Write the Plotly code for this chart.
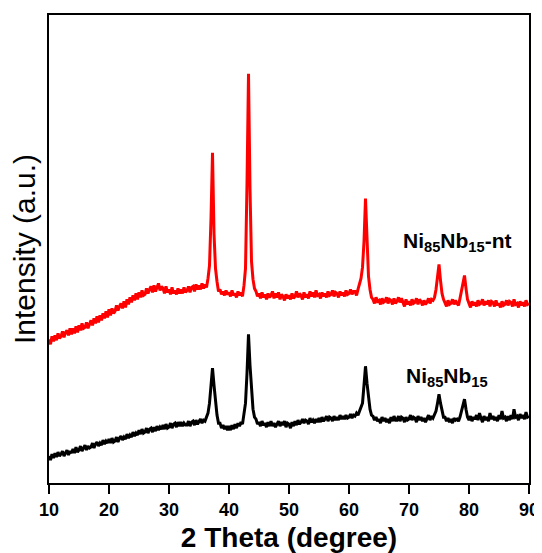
import plotly.graph_objects as go

# 2-theta grid: 10.00, 10.25, ... 90.00
two_theta = [10 + 0.25 * i for i in range(321)]

# Ni85Nb15 (black) intensity, arbitrary units
ni85nb15 = [
    27, 23, 29, 25,   30, 26, 31, 27,   29, 32, 27, 31,   33, 28, 32, 30,   # 10-13
    34, 30, 36, 31,   33, 37, 32, 35,   38, 33, 37, 35,   36, 40, 35, 39,   # 14-17
    41, 37, 40, 38,   43, 39, 42, 40,   44, 40, 45, 41,   42, 46, 41, 45,   # 18-21
    47, 43, 46, 44,   49, 45, 48, 46,   51, 47, 50, 48,   53, 49, 54, 50,   # 22-25
    51, 55, 50, 54,   55, 51, 56, 52,   57, 53, 56, 54,   58, 54, 59, 55,   # 26-29
    56, 60, 55, 59,   60, 56, 61, 57,   61, 57, 60, 58,   58, 62, 57, 61,   # 30-33
    62, 58, 63, 59,   61, 64, 60, 63,   62, 66, 70, 80,   100, 115, 98, 80, # 34-37
    68, 60, 60, 55,   58, 54, 57, 53,   57, 53, 58, 54,   59, 55, 60, 57,   # 38-41
    61, 59, 68, 80,   110, 149, 118, 90, 74, 66, 64, 59,   61, 57, 62, 58,  # 42-45
    60, 56, 61, 57,   62, 57, 60, 56,   59, 62, 57, 61,   58, 62, 56, 60,   # 46-49
    59, 55, 61, 57,   62, 58, 63, 59,   61, 64, 60, 63,   62, 59, 65, 61,   # 50-53
    63, 60, 64, 61,   65, 61, 66, 62,   64, 67, 62, 66,   65, 62, 67, 63,   # 54-57
    66, 63, 68, 64,   67, 64, 68, 65,   66, 69, 65, 68,   67, 70, 68, 72,   # 58-61
    74, 80, 98, 117,  100, 84, 74, 68,  67, 63, 66, 62,   64, 60, 66, 62,   # 62-65
    65, 61, 64, 60,   66, 62, 67, 63,   63, 67, 62, 66,   65, 61, 66, 63,   # 66-69
    64, 68, 63, 66,   65, 61, 67, 63,   66, 62, 65, 61,   64, 68, 63, 67,   # 70-73
    65, 69, 72, 80,   89, 80, 72, 66,   66, 62, 65, 61,   64, 60, 65, 63,   # 74-77
    64, 62, 66, 72,   78, 84, 74, 66,   63, 67, 62, 66,   64, 68, 63, 70,   # 78-81
    65, 61, 67, 63,   66, 62, 70, 64,   67, 63, 66, 62,   68, 64, 72, 65,   # 82-85
    66, 62, 67, 63,   68, 64, 74, 66,   67, 63, 69, 65,   68, 64, 71, 66,   # 86-89
    67,                                                                       # 90
]

# Ni85Nb15-nt (red) intensity, arbitrary units
ni85nb15_nt = [
    144, 139, 147, 142,  148, 143, 150, 145,  147, 152, 146, 151,  153, 148, 155, 149,  # 10-13
    155, 150, 157, 151,  158, 153, 160, 155,  156, 161, 155, 160,  163, 158, 165, 160,  # 14-17
    167, 161, 168, 163,  170, 165, 172, 166,  174, 168, 175, 170,  172, 178, 173, 177,  # 18-21
    180, 175, 182, 176,  184, 179, 186, 181,  188, 183, 190, 184,  191, 186, 193, 188,  # 22-25
    189, 195, 190, 194,  197, 191, 198, 192,  196, 200, 193, 197,  195, 190, 197, 191,  # 26-29
    194, 189, 196, 190,  193, 189, 195, 190,  194, 190, 196, 191,  193, 197, 191, 196,  # 30-33
    197, 192, 199, 194,  198, 194, 200, 195,  199, 196, 205, 218,  265, 331, 250, 215,  # 34-37
    202, 192, 194, 189,  192, 188, 193, 189,  191, 187, 193, 188,  190, 186, 192, 188,  # 38-41
    191, 187, 198, 215,  300, 410, 295, 222,  204, 195, 192, 187,  190, 185, 191, 186,  # 42-45
    189, 184, 190, 186,  188, 192, 185, 190,  186, 191, 184, 189,  187, 183, 189, 185,  # 46-49
    188, 184, 190, 185,  187, 192, 186, 190,  188, 184, 191, 186,  189, 185, 192, 187,  # 50-53
    191, 186, 193, 188,  189, 185, 191, 187,  190, 186, 192, 188,  189, 193, 187, 191,  # 54-57
    190, 186, 192, 188,  191, 187, 193, 189,  190, 194, 189, 192,  192, 188, 194, 199,  # 58-61
    205, 216, 242, 285,  236, 207, 194, 186,  184, 180, 186, 182,  183, 179, 185, 181,  # 62-65
    182, 186, 180, 184,  183, 179, 185, 180,  182, 186, 181, 185,  181, 177, 184, 179,  # 66-69
    182, 178, 184, 180,  181, 185, 179, 184,  182, 178, 183, 179,  181, 185, 180, 184,  # 70-73
    183, 186, 194, 205,  219, 203, 190, 184,  181, 177, 183, 179,  180, 184, 179, 183,  # 74-77
    180, 178, 185, 192,  198, 208, 195, 184,  180, 176, 182, 178,  181, 177, 183, 179,  # 78-81
    180, 184, 178, 182,  179, 183, 177, 182,  181, 177, 183, 178,  180, 176, 182, 178,  # 82-85
    179, 183, 178, 182,  181, 177, 184, 179,  180, 176, 182, 178,  181, 177, 183, 179,  # 86-89
    180,                                                                                  # 90
]

x_ticks = [10, 20, 30, 40, 50, 60, 70, 80, 90]
label_nt = "Ni<sub>85</sub>Nb<sub>15</sub>-nt"
label_plain = "Ni<sub>85</sub>Nb<sub>15</sub>"

FONT = "Liberation Sans, Arial, sans-serif"

fig = go.Figure()
fig.add_trace(go.Scatter(x=two_theta, y=ni85nb15, mode="lines",
                         line=dict(color="#000000", width=3), showlegend=False))
fig.add_trace(go.Scatter(x=two_theta, y=ni85nb15_nt, mode="lines",
                         line=dict(color="#ff0000", width=3), showlegend=False))

fig.add_annotation(x=78.0, y=242, text=label_nt, showarrow=False,
                   font=dict(family=FONT, size=21, color="#000000", weight="bold"))
fig.add_annotation(x=76.4, y=106, text=label_plain, showarrow=False,
                   font=dict(family=FONT, size=21, color="#000000", weight="bold"))

# the page adds an 8 px body margin, so the figure is 8 px smaller each way
fig.update_layout(
    width=534, height=545,
    margin=dict(l=41, r=13, t=7, b=70),
    paper_bgcolor="white", plot_bgcolor="white",
    font=dict(family=FONT, color="#000000"),
    xaxis=dict(
        range=[10, 90], tickvals=x_ticks, ticktext=[str(v) for v in x_ticks],
        automargin=False,
        showgrid=False, zeroline=False,
        showline=True, linecolor="#000000", linewidth=2, mirror=True,
        ticks="outside", ticklen=9, tickwidth=2, tickcolor="#000000",
        tickfont=dict(family=FONT, size=18, color="#000000", weight="bold"),
        title=dict(text="2 Theta (degree)", standoff=14,
                   font=dict(family=FONT, size=28, color="#000000", weight="bold")),
    ),
    yaxis=dict(
        range=[0, 469], showticklabels=False, ticks="",
        automargin=False,
        showgrid=False, zeroline=False,
        showline=True, linecolor="#000000", linewidth=2, mirror=True,
        title=dict(text="Intensity (a.u.)", standoff=10,
                   font=dict(family=FONT, size=30, color="#000000")),
    ),
)

fig.write_html("out.html")
